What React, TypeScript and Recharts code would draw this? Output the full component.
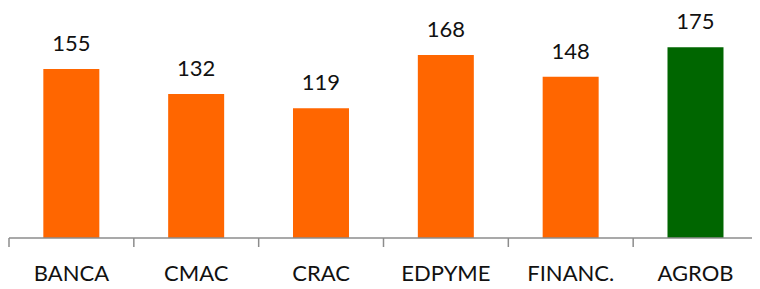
import React from 'react';
import { BarChart, Bar, XAxis, YAxis, LabelList, Cell } from 'recharts';

const categories = ['BANCA', 'CMAC', 'CRAC', 'EDPYME', 'FINANC.', 'AGROB'];
const values = [155, 132, 119, 168, 148, 175];
const highlighted = 'AGROB';

const data = categories.map((name, i) => ({ name, value: values[i] }));

const FONT = 'Lato, "Open Sans", sans-serif';
const AXIS_COLOR = '#8c8c8c';

const CategoryTick = (props: any) => {
  const { x, y, payload, index, visibleTicksCount } = props;
  const half = payload && typeof payload.offset === 'number' ? payload.offset : 0;
  const last = index === (visibleTicksCount ?? categories.length) - 1;
  return (
    <g>
      <line x1={x - half} x2={x - half} y1={y} y2={y + 9} stroke={AXIS_COLOR} strokeWidth={1.5} />
      {last && (
        <line x1={x + half} x2={x + half} y1={y} y2={y + 9} stroke={AXIS_COLOR} strokeWidth={1.5} />
      )}
      <text x={x} y={y + 43} textAnchor="middle" fill="#111" fontSize={22} fontFamily={FONT}>
        {payload.value}
      </text>
    </g>
  );
};

export default function App() {
  return (
    <BarChart
      width={752}
      height={281}
      data={data}
      margin={{ top: 12, right: 2, bottom: 0, left: 1 }}
      barCategoryGap="27.5%"
    >
      <YAxis hide domain={[0, 200]} />
      <XAxis
        dataKey="name"
        height={51}
        tickLine={false}
        tickSize={0}
        tickMargin={0}
        interval={0}
        axisLine={{ stroke: AXIS_COLOR, strokeWidth: 1.5 }}
        tick={<CategoryTick />}
      />
      <Bar dataKey="value" isAnimationActive={false}>
        {data.map((d) => (
          <Cell key={d.name} fill={d.name === highlighted ? '#006600' : '#FF6600'} />
        ))}
        <LabelList
          dataKey="value"
          position="top"
          offset={18}
          fill="#111"
          fontSize={22}
          fontFamily={FONT}
        />
      </Bar>
    </BarChart>
  );
}
